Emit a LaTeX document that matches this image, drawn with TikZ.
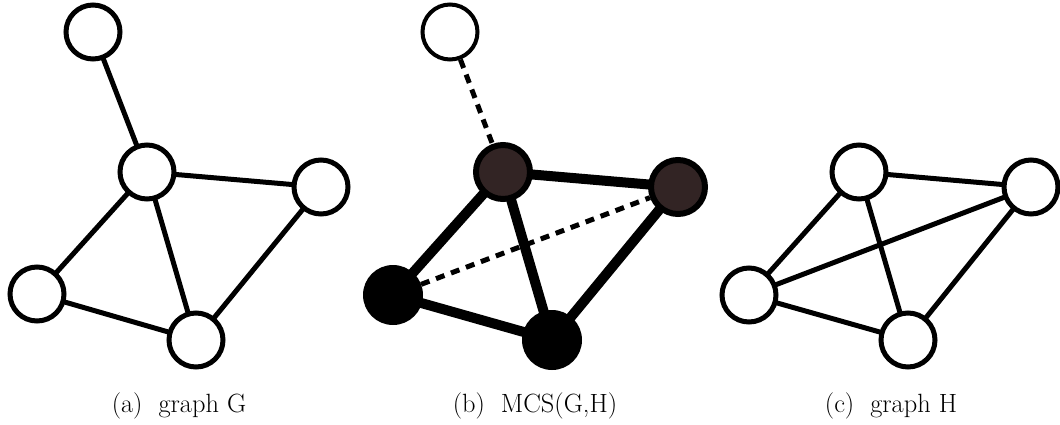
\documentclass[tikz,border=0pt]{standalone}
\usepackage{fontspec}
\usetikzlibrary{backgrounds}
\definecolor{mcsbrown}{RGB}{50,36,36}
\begin{document}
\begin{tikzpicture}[x=1pt,y=-1pt,
  vtx/.style={circle,draw=black,fill=white,line width=5pt,minimum size=54pt,inner sep=0pt},
  vtxthin/.style={circle,draw=black,fill=white,line width=4pt,minimum size=55pt,inner sep=0pt},
  vtxbrown/.style={circle,draw=black,fill=mcsbrown,line width=6pt,minimum size=54pt,inner sep=0pt},
  vtxblack/.style={circle,draw=black,fill=black,line width=2pt,minimum size=58pt,inner sep=0pt},
  edge/.style={line width=5pt},
  thickedge/.style={line width=10pt},
  dashedge/.style={line width=5pt,dash pattern=on 9pt off 7pt},
  captext/.style={anchor=base,font=\fontsize{26.4}{30}\selectfont}]
\useasboundingbox (0,0) rectangle (1060,424);
% graph G
\node[vtx] (g1) at (93,32) {};
\node[vtx] (g2) at (147,172) {};
\node[vtx] (g3) at (321,187) {};
\node[vtx] (g4) at (37,294) {};
\node[vtx] (g5) at (196,340) {};
% MCS
\node[vtxthin] (m1) at (450,32) {};
\node[vtxbrown] (m2) at (503,172) {};
\node[vtxbrown] (m3) at (678,187) {};
\node[vtxblack] (m4) at (393,295) {};
\node[vtxblack] (m5) at (552,340) {};
% graph H
\node[vtx] (h1) at (859,172) {};
\node[vtx] (h2) at (1031,187) {};
\node[vtx] (h3) at (749,295) {};
\node[vtx] (h4) at (908,340) {};
\begin{scope}[on background layer]
\draw[edge] (g1.center) -- (g2.center);
\draw[edge] (g2.center) -- (g3.center);
\draw[edge] (g2.center) -- (g4.center);
\draw[edge] (g2.center) -- (g5.center);
\draw[edge] (g4.center) -- (g5.center);
\draw[edge] (g3.center) -- (g5.center);
\draw[dashedge] (m1) -- (m2);
\draw[thickedge] (m2.center) -- (m3.center);
\draw[thickedge] (m2.center) -- (m4.center);
\draw[thickedge] (m2.center) -- (m5.center);
\draw[thickedge] (m4.center) -- (m5.center);
\draw[thickedge] (m3.center) -- (m5.center);
\draw[dashedge] (m4) -- (m3);
\draw[edge] (h1.center) -- (h2.center);
\draw[edge] (h1.center) -- (h3.center);
\draw[edge] (h1.center) -- (h4.center);
\draw[edge] (h3.center) -- (h2.center);
\draw[edge] (h3.center) -- (h4.center);
\draw[edge] (h2.center) -- (h4.center);
\end{scope}
\node[captext] (ca) at (179,412) {(a)\ \ graph G};
\node[captext] (cb) at (535,412) {(b)\ \ MCS(G,H)};
\node[captext] (cc) at (891,412) {(c)\ \ graph H};
\end{tikzpicture}
\end{document}
